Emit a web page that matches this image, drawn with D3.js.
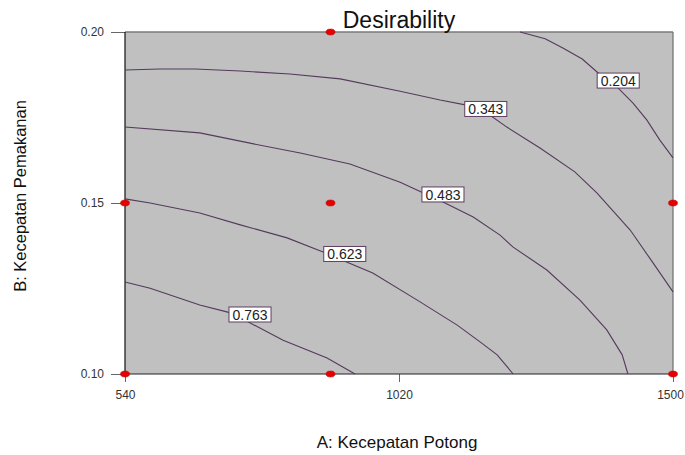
<!DOCTYPE html>
<html>
<head>
<meta charset="utf-8" />
<title>Desirability</title>
<style>
  body { margin: 0; background: #ffffff; }
  svg { display: block; font-family: Arial, 'Liberation Sans', sans-serif; }
</style>
<script src="https://cdnjs.cloudflare.com/ajax/libs/d3/7.8.5/d3.min.js"></script>
</head>
<body>
<div id="chart"></div>
<script>
// axis ticks
var xTicks = [540, 1020, 1500];
var yTicks = [0.10, 0.15, 0.20];

// design points (A: Kecepatan Potong, B: Kecepatan Pemakanan)
var pointsA = [900, 540, 900, 1500, 540, 900, 1500];
var pointsB = [0.20, 0.15, 0.15, 0.15, 0.10, 0.10, 0.10];

// contour levels, lines
var levels = ["0.204", "0.343", "0.483", "0.623", "0.763"];
var contourA = [
  [1232, 1276, 1307, 1341, 1367, 1404, 1430, 1454, 1477, 1500],
  [540, 601, 663, 742, 829, 917, 1022, 1092, 1136, 1174, 1209, 1267, 1328, 1367, 1425, 1465, 1500],
  [540, 671, 759, 847, 934, 1022, 1097, 1150, 1197, 1220, 1279, 1337, 1384, 1411, 1421],
  [540, 584, 671, 742, 824, 887, 925, 974, 1052, 1122, 1162, 1192, 1220],
  [540, 584, 671, 720, 756, 817, 894, 943]
];
var contourB = [
  [0.200, 0.198, 0.1953, 0.1921, 0.1883, 0.1836, 0.1792, 0.1743, 0.1684, 0.1632],
  [0.1889, 0.1892, 0.1892, 0.1886, 0.1877, 0.1863, 0.1827, 0.1801, 0.1787, 0.1763, 0.1722, 0.1661, 0.1591, 0.1529, 0.1421, 0.1325, 0.1240],
  [0.1722, 0.1705, 0.1675, 0.1646, 0.1614, 0.1561, 0.1503, 0.1459, 0.1406, 0.1371, 0.1304, 0.1216, 0.1129, 0.1056, 0.1000],
  [0.1512, 0.1500, 0.1471, 0.1436, 0.1398, 0.1357, 0.1330, 0.1295, 0.1216, 0.1143, 0.1094, 0.1056, 0.1000],
  [0.1269, 0.1251, 0.1202, 0.1181, 0.1152, 0.1099, 0.1047, 0.1000]
];
// where each level's label box sits
var labelA = [1404, 1172, 1097, 925, 759];
var labelB = [0.1858, 0.1775, 0.1525, 0.1351, 0.1174];

var w = 685, h = 455;
var margin = { top: 32, right: 12, bottom: 81, left: 125 };
var width = w - margin.left - margin.right,
    height = h - margin.top - margin.bottom;

var x = d3.scaleLinear().domain([540, 1500]).range([0, width]);
var y = d3.scaleLinear().domain([0.10, 0.20]).range([height, 0]);

var svg = d3.select("#chart").append("svg")
  .attr("width", w)
  .attr("height", h);

var g = svg.append("g")
  .attr("transform", "translate(" + margin.left + "," + margin.top + ")");

// plot background
g.append("rect")
  .attr("width", width)
  .attr("height", height)
  .attr("fill", "#c0c0c0");

// axes
var yAxis = g.append("g")
  .call(d3.axisLeft(y).tickValues(yTicks).tickFormat(d3.format(".2f")).tickSize(14).tickPadding(7).tickSizeOuter(0));
var xAxis = g.append("g")
  .attr("transform", "translate(0," + height + ")")
  .call(d3.axisBottom(x).tickValues(xTicks).tickFormat(d3.format("d")).tickSize(8).tickPadding(8).tickSizeOuter(0));

[xAxis, yAxis].forEach(function (a) {
  a.select(".domain").remove();
  a.selectAll(".tick line").attr("stroke", "#666");
  a.selectAll(".tick text").attr("fill", "#333").attr("font-size", "12px")
    .attr("font-family", "Arial, 'Liberation Sans', sans-serif");
});

// last x label sits at the page edge, nudge it inside
xAxis.selectAll(".tick text").filter(function (d) { return d === 1500; })
  .attr("dx", -3);

// frame: gray on top/right, dark on left/bottom
g.append("line").attr("x1", 0).attr("x2", width).attr("y1", 0).attr("y2", 0)
  .attr("stroke", "#7a7a7a").attr("stroke-width", 1.5);
g.append("line").attr("x1", width).attr("x2", width).attr("y1", 0).attr("y2", height)
  .attr("stroke", "#6e6e6e").attr("stroke-width", 1.2);
g.append("line").attr("x1", 0).attr("x2", 0).attr("y1", 0).attr("y2", height)
  .attr("stroke", "#111").attr("stroke-width", 1.2);
g.append("line").attr("x1", 0).attr("x2", width).attr("y1", height).attr("y2", height)
  .attr("stroke", "#222").attr("stroke-width", 1.2);

// contour lines
var line = d3.line()
  .x(function (d) { return x(d[0]); })
  .y(function (d) { return y(d[1]); });

levels.forEach(function (lev, i) {
  var pts = contourA[i].map(function (a, j) { return [a, contourB[i][j]]; });
  g.append("path")
    .datum(pts)
    .attr("d", line)
    .attr("fill", "none")
    .attr("stroke", "#553a5c")
    .attr("stroke-width", 1.1);
});

// labels
levels.forEach(function (lev, i) {
  var lg = g.append("g")
    .attr("transform", "translate(" + x(labelA[i]) + "," + y(labelB[i]) + ")");
  var box = lg.append("rect");
  var t = lg.append("text")
    .text(lev)
    .attr("text-anchor", "middle")
    .attr("dy", "0.37em")
    .attr("font-size", "14px")
    .attr("fill", "#222");
  var bw = t.node().getComputedTextLength() + 7;
  box.attr("x", -bw / 2).attr("y", -7.5)
    .attr("width", bw).attr("height", 15)
    .attr("fill", "#ffffff")
    .attr("stroke", "#5e3c60")
    .attr("stroke-width", 1);
});

// design points
g.append("g")
  .selectAll("ellipse")
  .data(pointsA)
  .enter()
  .append("ellipse")
  .attr("cx", function (d) { return x(d); })
  .attr("cy", function (d, i) { return y(pointsB[i]); })
  .attr("rx", 4.5)
  .attr("ry", 3)
  .attr("fill", "#e80000")
  .attr("stroke", "#b00000")
  .attr("stroke-width", 0.5);

// titles
svg.append("text")
  .attr("x", margin.left + width / 2)
  .attr("y", 28)
  .attr("text-anchor", "middle")
  .attr("font-size", "23px")
  .attr("fill", "#111")
  .text("Desirability");

svg.append("text")
  .attr("x", 397)
  .attr("y", 448)
  .attr("text-anchor", "middle")
  .attr("font-size", "17px")
  .attr("fill", "#111")
  .text("A: Kecepatan Potong");

svg.append("text")
  .attr("transform", "translate(25.5,196) rotate(-90)")
  .attr("text-anchor", "middle")
  .attr("font-size", "16.5px")
  .attr("fill", "#111")
  .text("B: Kecepatan Pemakanan");
</script>
</body>
</html>
